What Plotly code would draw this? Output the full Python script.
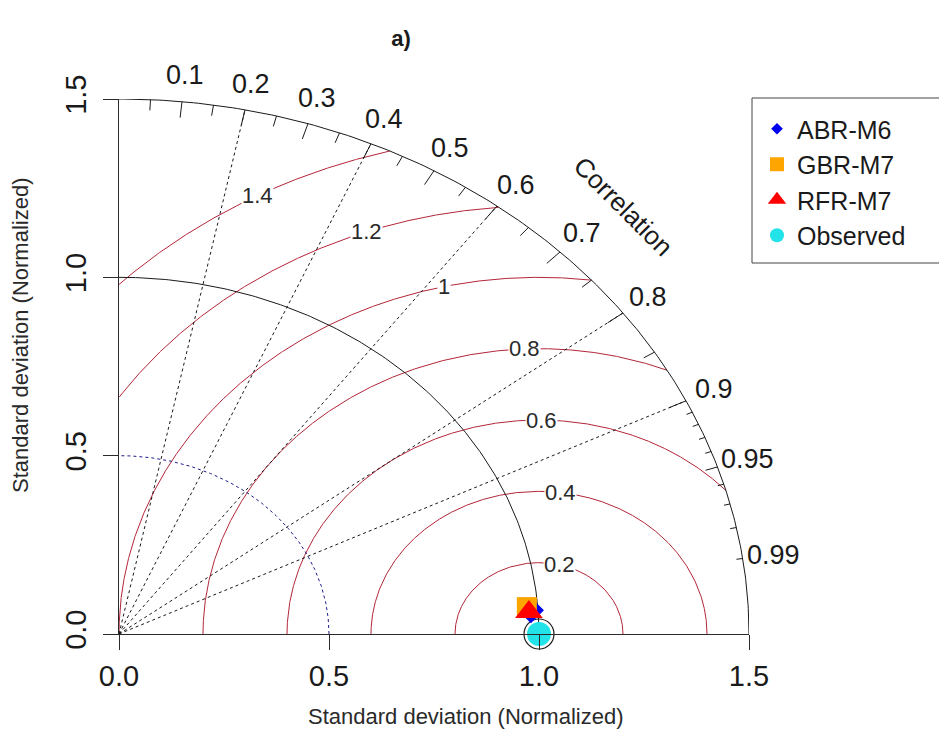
import numpy as np
import plotly.graph_objects as go

# Normalised standard deviation and correlation of each model against the observations
models = ["ABR-M6", "GBR-M7", "RFR-M7"]
model_sd = [0.983, 0.974, 0.978]
model_corr = [0.9977, 0.9970, 0.9980]
ref_name = "Observed"
ref_sd = 1.0

# Diagram scaffolding
max_sd = 1.5
axis_ticks = [0.0, 0.5, 1.0, 1.5]
axis_tick_text = ["0.0", "0.5", "1.0", "1.5"]
corr_labels = [0.1, 0.2, 0.3, 0.4, 0.5, 0.6, 0.7, 0.8, 0.9, 0.95, 0.99]
corr_label_text = ["0.1", "0.2", "0.3", "0.4", "0.5", "0.6", "0.7", "0.8", "0.9", "0.95", "0.99"]
corr_mid_ticks = [0.05, 0.15, 0.25, 0.35, 0.45, 0.55, 0.65, 0.75, 0.85, 0.95]
corr_small_ticks = [0.91, 0.92, 0.93, 0.94, 0.96, 0.97, 0.98, 0.99]
corr_rays = [0.2, 0.4, 0.6, 0.8, 0.9]
rms_levels = [0.2, 0.4, 0.6, 0.8, 1.0, 1.2, 1.4]
rms_level_text = ["0.2", "0.4", "0.6", "0.8", "1", "1.2", "1.4"]
rms_label_angle = [75.6, 82.5, 89.4, 92.5, 103.1, 110.0, 118.6]

FONT = "Liberation Sans, Arial, sans-serif"
INK = "#1a1a1a"
RMS_COLOR = "#b3263a"

# plot-area size in pixels, used to place paper-referenced items
PW, PH = 630, 535

marker_style = {
    "ABR-M6": dict(symbol="diamond", color="#0000ee", size=20, legend_size=9),
    "GBR-M7": dict(symbol="square", color="#ffa500", size=20, legend_size=14),
    "RFR-M7": dict(symbol="triangle-up", color="#ff0000", size=24, legend_size=16),
    "Observed": dict(symbol="circle", color="#22e4e8", size=24, legend_size=14),
}

fig = go.Figure()


def add_line(xs, ys, color=INK, width=1, dash="solid"):
    fig.add_trace(go.Scatter(x=xs, y=ys, mode="lines", hoverinfo="skip", showlegend=False,
                             line=dict(color=color, width=width, dash=dash)))


def arc(radius, n=200):
    t = np.linspace(0, np.pi / 2, n)
    return radius * np.cos(t), radius * np.sin(t)


# centred RMS difference contours around the reference point
for g in rms_levels:
    t = np.linspace(0, np.pi, 1500)
    cx = ref_sd + g * np.cos(t)
    cy = g * np.sin(t)
    keep = (cx >= 0) & (cx ** 2 + cy ** 2 <= max_sd ** 2)
    add_line(cx[keep], cy[keep], color=RMS_COLOR, width=1)

# correlation rays from the origin
rx, ry = [], []
for c in corr_rays:
    rx += [0, max_sd * c, None]
    ry += [0, max_sd * np.sqrt(1 - c ** 2), None]
add_line(rx, ry, dash="3px,3px")

# standard deviation arcs
ax_, ay_ = arc(0.5)
add_line(ax_, ay_, color="#1c1c8c", dash="3px,3px")
ax_, ay_ = arc(ref_sd)
add_line(ax_, ay_)
ax_, ay_ = arc(max_sd)
add_line(ax_, ay_)

# tick marks on the outer correlation arc
tx, ty = [], []
for vals, inner in ((corr_labels[:9], 0.97), (corr_mid_ticks, 0.98), (corr_small_ticks, 0.99)):
    for c in vals:
        s = np.sqrt(1 - c ** 2)
        tx += [max_sd * c, inner * max_sd * c, None]
        ty += [max_sd * s, inner * max_sd * s, None]
add_line(tx, ty)

# reference point outline
fig.add_trace(go.Scatter(x=[ref_sd], y=[0], mode="markers", hoverinfo="skip", showlegend=False,
                         cliponaxis=False,
                         marker=dict(symbol="circle-open", size=30, color=INK, line=dict(width=1.2))))

# model points
for name, sd, r in zip(models, model_sd, model_corr):
    st = marker_style[name]
    fig.add_trace(go.Scatter(
        x=[sd * r], y=[sd * np.sqrt(1 - r ** 2)], mode="markers", name=name,
        legendgroup=name, showlegend=False, cliponaxis=False,
        marker=dict(symbol=st["symbol"], color=st["color"], size=st["size"], line=dict(width=0))))

st = marker_style[ref_name]
fig.add_trace(go.Scatter(x=[ref_sd], y=[0], mode="markers", name=ref_name, legendgroup=ref_name,
                         showlegend=False, cliponaxis=False,
                         marker=dict(symbol=st["symbol"], color=st["color"], size=st["size"])))

# legend entries
for name in models + [ref_name]:
    st = marker_style[name]
    fig.add_trace(go.Scatter(x=[None], y=[None], mode="markers", name=name, legendgroup=name,
                             marker=dict(symbol=st["symbol"], color=st["color"],
                                         size=st["legend_size"], line=dict(width=0))))

annotations = []
# correlation labels outside the arc (paper coordinates, since they sit beyond the axis range)
for c, txt in zip(corr_labels, corr_label_text):
    annotations.append(dict(x=1.05 * c, y=1.05 * np.sqrt(1 - c ** 2), xref="paper", yref="paper",
                            xanchor="center", yanchor="middle",
                            text=txt, showarrow=False, font=dict(family=FONT, size=27, color=INK)))
annotations.append(dict(x=0.8, y=0.8, xref="paper", yref="paper", text="Correlation", textangle=45,
                        xanchor="center", yanchor="middle",
                        showarrow=False, font=dict(family=FONT, size=26, color=INK)))
# RMS contour labels
for g, txt, ang in zip(rms_levels, rms_level_text, rms_label_angle):
    a = np.radians(ang)
    annotations.append(dict(x=ref_sd + g * np.cos(a), y=g * np.sin(a), text=txt, showarrow=False,
                            bgcolor="white", borderpad=0,
                            font=dict(family=FONT, size=22, color="#2a2a2a")))
# axis titles, centred on the full drawing region
title_font = dict(family=FONT, size=22, color="#2a2a2a")
annotations.append(dict(x=(466 - 119) / PW, y=(634 - 716) / PH, xref="paper", yref="paper",
                        text="Standard deviation (Normalized)", showarrow=False,
                        xanchor="center", yanchor="middle", font=title_font))
annotations.append(dict(x=(20 - 119) / PW, y=(634 - 335) / PH, xref="paper", yref="paper",
                        text="Standard deviation (Normalized)", showarrow=False, textangle=-90,
                        xanchor="center", yanchor="middle", font=title_font))

axis_common = dict(
    range=[0, max_sd], showgrid=False, zeroline=False, showline=True, linecolor="#2a2a2a",
    linewidth=1, ticks="outside", ticklen=15, tickwidth=1, tickcolor="#2a2a2a",
    tickvals=axis_ticks, ticktext=axis_tick_text,
    tickfont=dict(family=FONT, size=29, color=INK),
)

fig.update_layout(
    width=939, height=732,
    margin=dict(l=119, r=190, t=99, b=98, autoexpand=False),
    paper_bgcolor="white", plot_bgcolor="white",
    title=dict(text="<b>a)</b>", x=401 / 939, xref="container", xanchor="center",
               y=1 - 38 / 732, yref="container", yanchor="middle",
               font=dict(family=FONT, size=22, color=INK)),
    xaxis=dict(axis_common, ticklabelstandoff=1),
    yaxis=dict(axis_common, tickangle=-90, ticklabelstandoff=5),
    legend=dict(x=(757 - 119) / PW, y=(634 - 106) / PH, xanchor="left", yanchor="top",
                borderwidth=0, bgcolor="rgba(0,0,0,0)", tracegroupgap=0,
                font=dict(family=FONT, size=25, color=INK), itemsizing="trace"),
    shapes=[dict(type="rect", xref="paper", yref="paper",
                 x0=(752 - 119) / PW, x1=(950 - 119) / PW,
                 y0=(634 - 263) / PH, y1=(634 - 98) / PH,
                 line=dict(color="#444444", width=1), fillcolor="rgba(0,0,0,0)", layer="below")],
    annotations=annotations,
    showlegend=True,
)

fig.write_html("out.html")
